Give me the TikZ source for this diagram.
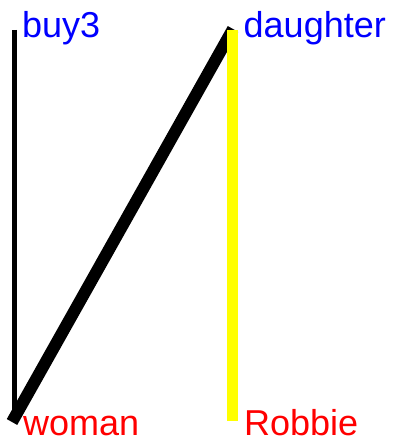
\documentclass[tikz,border=0pt]{standalone}
\usepackage{fontspec}
\setmainfont{Liberation Sans}
\definecolor{pblue}{RGB}{0,0,255}
\definecolor{pred}{RGB}{255,0,0}
\definecolor{pyellow}{RGB}{255,255,0}
\begin{document}
\begin{tikzpicture}[x=1pt,y=-1pt,
  lbl/.style={inner sep=0pt,anchor=base west,font=\fontsize{36}{40}\selectfont},
  toplbl/.style={lbl,text=pblue},
  botlbl/.style={lbl,text=pred},
  thinedge/.style={draw=black,line width=5.5pt},
  thickedge/.style={draw=black,line width=12pt},
  yedge/.style={draw=pyellow,line width=10.5pt}]
\useasboundingbox[fill=white] (0,0) rectangle (393,446);
\coordinate (pbuy) at (14.5,30);
\coordinate (pwoman) at (14.5,421);
\coordinate (pwomanD) at (12,422);
\coordinate (pdaughter) at (233,29);
\coordinate (pdaughterY) at (232.5,30);
\coordinate (probbie) at (232.5,421);
\node[toplbl] (buy) at (22,38) {buy3};
\node[toplbl] (daughter) at (243.5,38) {daughter};
\node[botlbl] (woman) at (23,435) {woman};
\node[botlbl] (robbie) at (244,435) {Robbie};
\draw[thinedge] (pbuy) -- (pwoman);
\draw[thickedge] (pwomanD) -- (pdaughter);
\draw[yedge] (pdaughterY) -- (probbie);
\end{tikzpicture}
\end{document}
